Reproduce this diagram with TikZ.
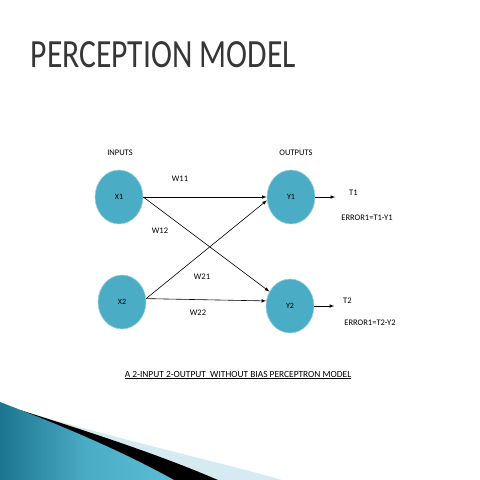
\documentclass[tikz,border=0pt]{standalone}
\usepackage{fontspec}
\setmainfont{Carlito}
\usetikzlibrary{shapes.geometric, arrows, positioning}
\definecolor{nodeblue}{HTML}{4BACC6}
\definecolor{rimblue}{HTML}{9FD3E2}
\definecolor{titlegray}{HTML}{363636}
\definecolor{bandblue}{HTML}{D6EAF2}
\definecolor{darkteal}{HTML}{1B7590}
\definecolor{lightteal}{HTML}{5CBCD6}

\begin{document}
\begin{tikzpicture}[x=1pt,y=-1pt,
  neuron/.style={ellipse, fill=nodeblue, draw=rimblue, line width=0.6pt,
    minimum width=48pt, minimum height=54pt, inner sep=0pt, font=\fontsize{8}{9}\selectfont},
  lbl/.style={font=\fontsize{8.5}{10}\selectfont, inner sep=1pt},
  wire/.style={-latex, line width=0.6pt}]
\useasboundingbox (0,0) rectangle (480,480);
% title
\node[titlegray, font=\fontsize{40}{44}\selectfont, xscale=0.79, transform shape, anchor=west] (title) at (28,55) {PERCEPTION MODEL};
% headings
\node[lbl] (inputs) at (120,153) {INPUTS};
\node[lbl] (outputs) at (296,153) {OUTPUTS};
% neurons
\node[neuron] (x1) at (119,197) {X1};
\node[neuron] (x2) at (122,302) {X2};
\node[neuron] (y1) at (291,197) {Y1};
\node[neuron] (y2) at (290,306) {Y2};
% weights
\draw[wire] (x1.east) -- (y1.west);
\draw[wire] (x1.east) -- (y2.145);
\draw[wire] (x2.8) -- (y1.188);
\draw[wire] (x2.8) -- (y2.168);
\node[lbl] (w11) at (180,179) {W11};
\node[lbl] (w12) at (160,231) {W12};
\node[lbl] (w21) at (202,277) {W21};
\node[lbl] (w22) at (198,313) {W22};
% targets
\node[lbl, anchor=west] (t1) at (348,193) {T1};
\node[lbl, anchor=west] (t2) at (342,301) {T2};
\draw[wire] (y1.east) -- ++(20,0) coordinate (t1end);
\draw[wire] (y2.east) -- ++(20,0) coordinate (t2end);
\node[lbl] (err1) at (367,218) {ERROR1=T1-Y1};
\node[lbl] (err2) at (370,323) {ERROR1=T2-Y2};
% caption
\node[font=\fontsize{9.4}{10}\selectfont] (caption) at (238,375) {\underline{A 2-INPUT 2-OUTPUT\ \ WITHOUT BIAS PERCEPTRON MODEL}};
% swoosh at the bottom
\fill[bandblue] (20,410) .. controls (120,440) and (220,462) .. (282,480) -- (0,480) -- cycle;
\fill[black] (20,410) .. controls (90,432) and (160,455) .. (218,480) -- (0,480) -- cycle;
\shade[left color=darkteal, right color=lightteal, middle color=nodeblue] (0,402) .. controls (60,425) and (120,450) .. (174,480) -- (0,480) -- cycle;
\end{tikzpicture}
\end{document}
